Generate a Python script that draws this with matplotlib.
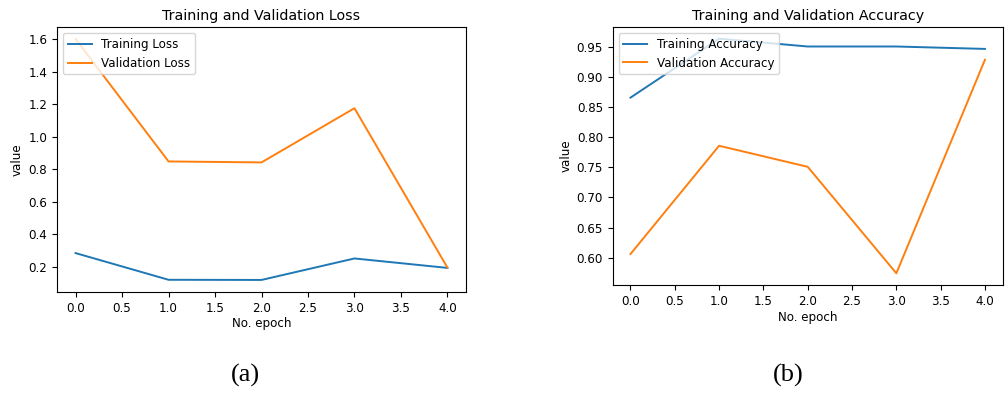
import matplotlib
matplotlib.use("Agg")
import matplotlib.pyplot as plt

epochs = [0, 1, 2, 3, 4]
train_loss = [0.285, 0.121, 0.120, 0.252, 0.194]
val_loss = [1.60, 0.848, 0.842, 1.175, 0.196]
train_acc = [0.866, 0.964, 0.951, 0.951, 0.947]
val_acc = [0.606, 0.786, 0.751, 0.574, 0.929]

small = 8.6
big = 10.3

fig = plt.figure(figsize=(10.05, 3.94), dpi=100)

ax1 = fig.add_axes([0.0567, 0.2589, 0.407, 0.6726])
ax1.plot(epochs, train_loss, label="Training Loss", lw=1.4)
ax1.plot(epochs, val_loss, label="Validation Loss", lw=1.4)
ax1.set_title("Training and Validation Loss", fontsize=big, pad=5)
ax1.set_xlabel("No. epoch", fontsize=small, labelpad=2)
ax1.set_ylabel("value", fontsize=small, labelpad=3)
ax1.tick_params(labelsize=small)
ax1.legend(loc="upper left", fontsize=small)

ax2 = fig.add_axes([0.6097, 0.2766, 0.388, 0.655])
ax2.plot(epochs, train_acc, label="Training Accuracy", lw=1.4)
ax2.plot(epochs, val_acc, label="Validation Accuracy", lw=1.4)
ax2.set_title("Training and Validation Accuracy", fontsize=big, pad=5)
ax2.set_xlabel("No. epoch", fontsize=small, labelpad=2)
ax2.set_ylabel("value", fontsize=small, labelpad=3)
ax2.tick_params(labelsize=small)
ax2.legend(loc="upper left", fontsize=small)

fig.text(245 / 1005, 1 - 375 / 394, "(a)", fontsize=19, family="Liberation Serif",
         ha="center", va="center")
fig.text(788 / 1005, 1 - 375 / 394, "(b)", fontsize=19, family="Liberation Serif",
         ha="center", va="center")

fig.savefig("out.png", dpi=100)
